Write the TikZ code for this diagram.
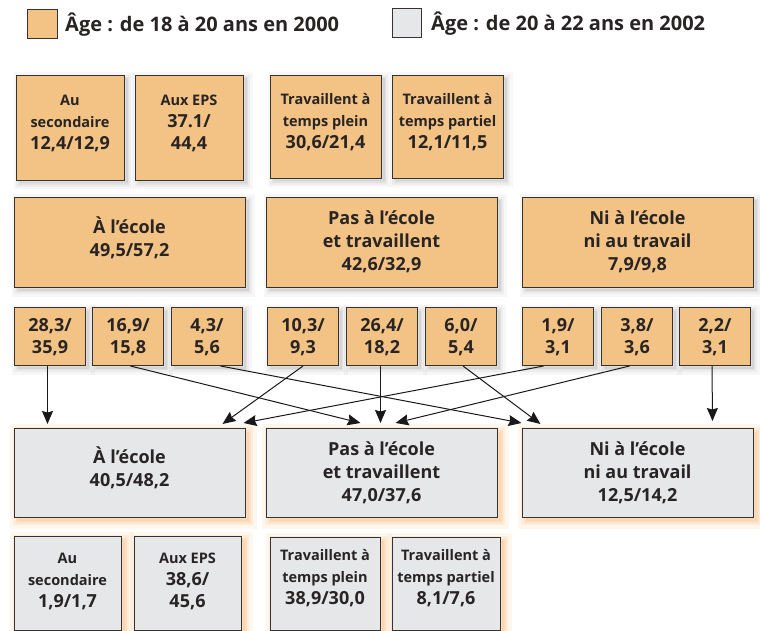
\documentclass[tikz,border=0pt]{standalone}
\usepackage{fontspec}
\setmainfont{Open Sans}
\usetikzlibrary{arrows.meta,calc}
\definecolor{orfill}{RGB}{243,195,133}
\definecolor{grfill}{RGB}{230,231,233}
\definecolor{bord}{RGB}{55,50,50}
\definecolor{txt}{RGB}{40,36,36}
\definecolor{glow}{RGB}{246,172,92}
\tikzset{
  greysh/.style={
    preaction={draw=black, draw opacity=0.03, line width=12pt, fill=none, transform canvas={shift={(3pt,-3pt)}}},
    preaction={draw=black, draw opacity=0.04, line width=7pt, fill=none, transform canvas={shift={(3pt,-3pt)}}},
    preaction={draw=black, draw opacity=0.05, line width=3pt, fill=black, fill opacity=0.06, transform canvas={shift={(3pt,-3pt)}}}},
  orsh/.style={
    preaction={draw=glow, draw opacity=0.10, line width=16pt, fill=none, transform canvas={shift={(3pt,-3pt)}}},
    preaction={draw=glow, draw opacity=0.14, line width=9pt, fill=none, transform canvas={shift={(3pt,-3pt)}}},
    preaction={draw=glow, draw opacity=0.18, line width=4pt, fill=glow, fill opacity=0.2, transform canvas={shift={(3pt,-3pt)}}}},
  box/.style={draw=bord, line width=1pt, inner sep=0pt, anchor=north west},
  obox/.style={box, fill=orfill, greysh},
  gbox/.style={box, fill=grfill, orsh},
  sq/.style={draw=bord, line width=1pt, inner sep=0pt, anchor=north west},
  lbl/.style={font=\bfseries\fontsize{14.5}{22}\selectfont, text=txt, align=center, inner sep=0pt},
  big/.style={font=\bfseries\fontsize{18}{23}\selectfont, text=txt, align=center, inner sep=0pt},
  num/.style={font=\bfseries\fontsize{18}{22}\selectfont, text=txt, align=center, inner sep=0pt},
  leg/.style={font=\bfseries\fontsize{20}{24}\selectfont, text=txt, anchor=base west, inner sep=0pt},
  arr/.style={draw=black!90, line width=1pt, -{Stealth[length=13pt,width=11pt,inset=1.5pt]}},
}
\newcommand{\nb}[1]{{\fontsize{18}{22}\selectfont #1}}
\begin{document}
\begin{tikzpicture}[x=1pt,y=-1pt]
\useasboundingbox (0,0) rectangle (760,631);
% legend
\node[sq, fill=orfill, minimum width=30pt, minimum height=29pt] (lsq1) at (27,9) {};
\node[leg] (ltx1) at (65,32) {Âge : de 18 à 20 ans en 2000};
\node[sq, fill=grfill, minimum width=29pt, minimum height=29pt] (lsq2) at (392,8) {};
\node[leg] (ltx2) at (431,31) {Âge : de 20 à 22 ans en 2002};
% row 1
\node[obox, minimum width=108pt, minimum height=105pt] (r1) at (16,75) {};
\node[obox, minimum width=108pt, minimum height=105pt] (r2) at (135,75) {};
\node[obox, minimum width=111pt, minimum height=103pt] (r3) at (270,75) {};
\node[obox, minimum width=111pt, minimum height=103pt] (r4) at (392,75) {};
\node[lbl] (r1t) at (70,123) {Au\\secondaire\\\nb{12,4/12,9}};
\node[lbl] (r2t) at (189,123) {Aux EPS\\\nb{37.1/}\\\nb{44,4}};
\node[lbl] (r3t) at (325.5,122) {Travaillent à\\temps plein\\\nb{30,6/21,4}};
\node[lbl] (r4t) at (447.5,122) {Travaillent à\\temps partiel\\\nb{12,1/11,5}};
% row 2
\node[obox, minimum width=231pt, minimum height=90pt] (A1) at (14,197) {};
\node[obox, minimum width=231pt, minimum height=90pt] (A2) at (266,197) {};
\node[obox, minimum width=231pt, minimum height=90pt] (A3) at (522,197) {};
\node[big] (A1t) at (129.5,238) {À l’école\\49,5/57,2};
\node[big] (A2t) at (381.5,242) {Pas à l’école\\et travaillent\\42,6/32,9};
\node[big] (A3t) at (637.5,242) {Ni à l’école\\ni au travail\\7,9/9,8};
% row 3
\foreach \n/\x/\a/\b in {b1/14/{28,3}/{35,9}, b2/92/{16,9}/{15,8}, b3/171/{4,3}/{5,6}, b4/267/{10,3}/{9,3}, b5/346/{26,4}/{18,2}, b6/425/{6,0}/{5,4}, b7/522/{1,9}/{3,1}, b8/601/{3,8}/{3,6}, b9/679/{2,2}/{3,1}}{
  \node[obox, minimum width=71pt, minimum height=58pt] (\n) at (\x,307) {};
  \node[num] (\n t) at ($(\n.center)+(0,1)$) {\a/\\\b};
}
% row 4
\node[gbox, minimum width=231pt, minimum height=89pt] (B1) at (14,428) {};
\node[gbox, minimum width=231pt, minimum height=89pt] (B2) at (266,428) {};
\node[gbox, minimum width=231pt, minimum height=89pt] (B3) at (522,428) {};
\node[big] (B1t) at (129.5,468) {À l’école\\40,5/48,2};
\node[big] (B2t) at (381.5,473) {Pas à l’école\\et travaillent\\47,0/37,6};
\node[big] (B3t) at (637.5,473) {Ni à l’école\\ni au travail\\12,5/14,2};
% row 5
\node[gbox, minimum width=107pt, minimum height=94pt] (c1) at (14,536) {};
\node[gbox, minimum width=107pt, minimum height=94pt] (c2) at (134,536) {};
\node[gbox, minimum width=110pt, minimum height=93pt] (c3) at (270,537) {};
\node[gbox, minimum width=108pt, minimum height=93pt] (c4) at (392,537) {};
\node[lbl] (c1t) at (67.5,581) {Au\\secondaire\\\nb{1,9/1,7}};
\node[lbl] (c2t) at (187.5,581) {Aux EPS\\\nb{38,6/}\\\nb{45,6}};
\node[lbl] (c3t) at (325,578) {Travaillent à\\temps plein\\\nb{38,9/30,0}};
\node[lbl] (c4t) at (446,578) {Travaillent à\\temps partiel\\\nb{8,1/7,6}};
% arrows
\draw[arr] ([xshift=-2.5pt]b1.south) -- ([xshift=-82.5pt,yshift=4pt]B1.north);
\draw[arr] ([xshift=2.5pt]b2.south) -- ([xshift=-21.5pt,yshift=5pt]B2.north);
\draw[arr] ([xshift=13.5pt]b3.south) -- ([xshift=-116.5pt,yshift=5pt]B3.north);
\draw[arr] ([xshift=0pt]b4.south) -- ([xshift=92.5pt,yshift=4pt]B1.north);
\draw[arr] ([xshift=-1.5pt]b5.south) -- ([xshift=-1.5pt,yshift=5pt]B2.north);
\draw[arr] ([xshift=2pt]b6.south) -- ([xshift=-97.5pt,yshift=4pt]B3.north);
\draw[arr] ([xshift=-14.5pt]b7.south) -- ([xshift=113.5pt,yshift=5pt]B1.north);
\draw[arr] ([xshift=-7.5pt]b8.south) -- ([xshift=13.5pt,yshift=5pt]B2.north);
\draw[arr] ([xshift=-3pt]b9.south) -- ([xshift=74.5pt,yshift=7pt]B3.north);
\end{tikzpicture}
\end{document}
